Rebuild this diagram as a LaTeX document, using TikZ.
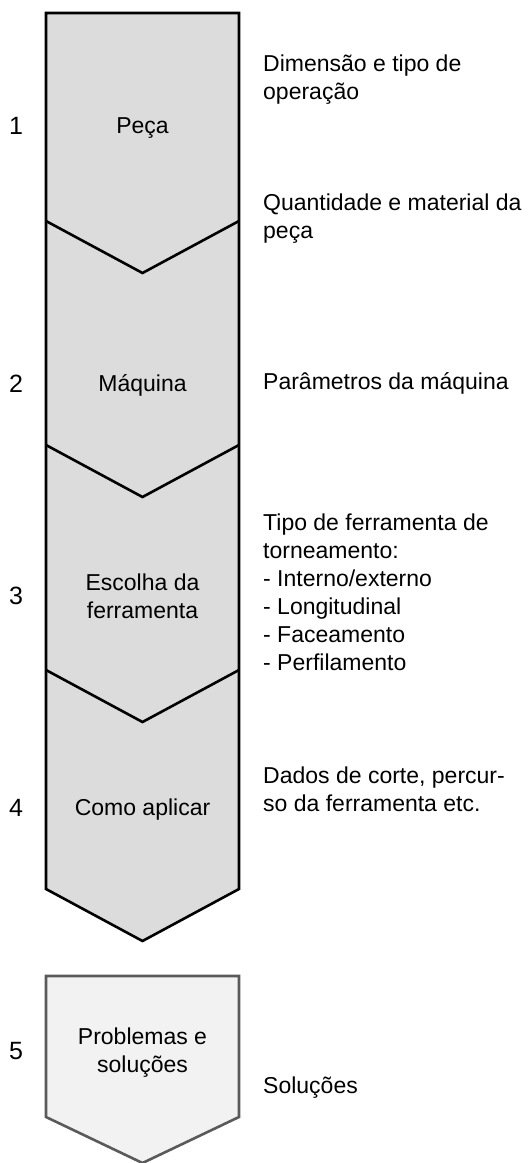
\documentclass[tikz,border=0pt]{standalone}
\usepackage{fontspec}
\setmainfont{Liberation Sans}
\usetikzlibrary{positioning}
\definecolor{stepgray}{RGB}{220,220,220}
\definecolor{lastgray}{RGB}{242,242,242}
\definecolor{lastline}{RGB}{90,90,90}
\tikzset{
  arrowbody/.style={draw=black, fill=stepgray, line width=2.6pt, line join=miter},
  chevron/.style={draw=black, line width=2.6pt},
  lastbody/.style={draw=lastline, fill=lastgray, line width=2.6pt, line join=miter},
  stepnum/.style={font=\fontsize{25}{28}\selectfont, inner sep=0pt,
                  text height=18pt, text depth=0pt},
  stepline/.style={font=\fontsize{23}{28}\selectfont, inner sep=0pt,
                   text height=16.5pt, text depth=0pt},
  steplabel/.style={font=\fontsize{23}{28}\selectfont, inner sep=0pt,
                    align=center},
  stepdesc/.style={font=\fontsize{23}{28}\selectfont, inner sep=0pt,
                   align=left, anchor=west}
}
\begin{document}
\begin{tikzpicture}[x=1pt, y=-1pt]
\useasboundingbox (0,0) rectangle (530,1163);
% long arrow, steps 1 to 4
\draw[arrowbody] (46,13) -- (239,13) -- (239,889) -- (142.5,941) -- (46,889) -- cycle;
\foreach \y in {221,445,670}
  \draw[chevron] (46,\y) -- (142.5,\y+52) -- (239,\y);
% step 5
\draw[lastbody] (46,976) -- (239,976) -- (239,1117) -- (142.5,1163) -- (46,1117) -- cycle;

% numbers
\node[stepnum] (n1) at (16,125) {1};
\node[stepnum] (n2) at (16,383) {2};
\node[stepnum] (n3) at (16,595) {3};
\node[stepnum] (n4) at (16,807) {4};
\node[stepnum] (n5) at (16,1050) {5};

% labels in the arrow
\node[stepline] (peca) at (142.5,125) {Peça};
\node[stepline] (maquina) at (142.5,383) {Máquina};
\node[steplabel] (escolha) at (142.5,596) {Escolha da\\ferramenta};
\node[stepline] (aplicar) at (142.5,807) {Como aplicar};
\node[steplabel] (problemas) at (142.5,1053) {Problemas e\\soluções};

% descriptions
\node[stepdesc] (dimensao) at (263,80) {Dimensão e tipo de\\operação};
\node[stepdesc] (quantidade) at (263,219) {Quantidade e material da\\peça};
\node[stepdesc, text height=16.5pt, text depth=0pt] (parametros) at (263,381) {Parâmetros da máquina};
\node[stepdesc] (tipo) at (263,592) {Tipo de ferramenta de\\torneamento:\\- Interno/externo\\- Longitudinal\\- Faceamento\\- Perfilamento};
\node[stepdesc] (dados) at (263,789) {Dados de corte, percur-\\so da ferramenta etc.};
\node[stepdesc, text height=16.5pt, text depth=0pt] (solucoes) at (263,1085) {Soluções};
\end{tikzpicture}
\end{document}
